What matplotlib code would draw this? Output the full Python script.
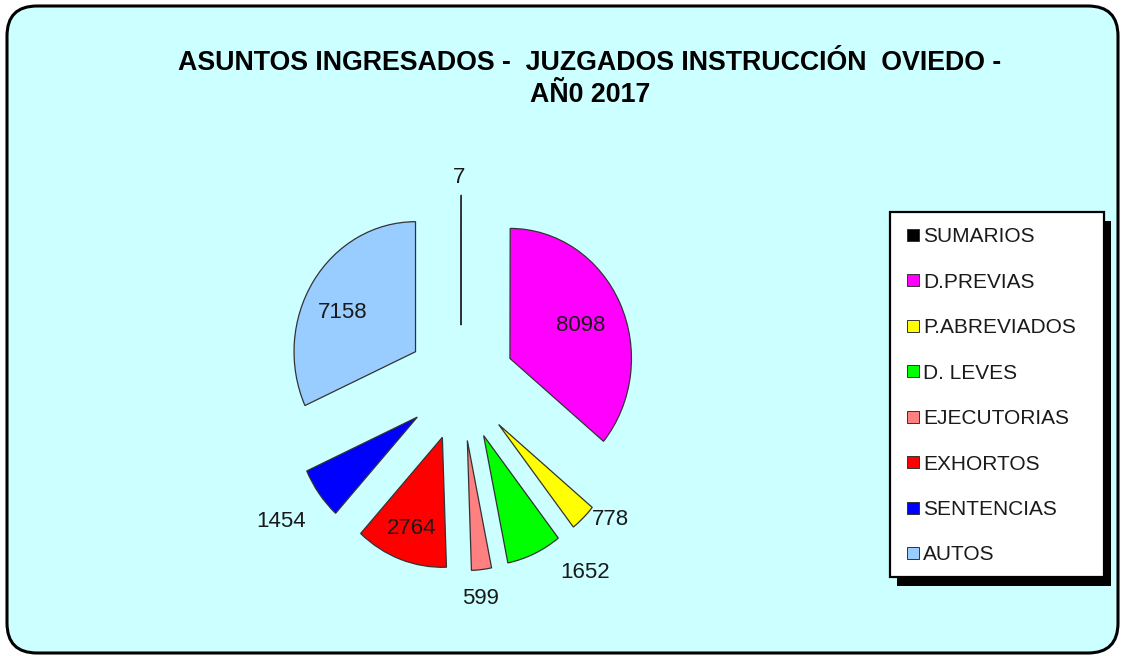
import numpy as np
import matplotlib
matplotlib.use("Agg")
import matplotlib.pyplot as plt
from matplotlib.patches import FancyBboxPatch, Rectangle
from matplotlib.transforms import IdentityTransform

# ---- data ----
categories = ["SUMARIOS", "D.PREVIAS", "P.ABREVIADOS", "D. LEVES",
              "EJECUTORIAS", "EXHORTOS", "SENTENCIAS", "AUTOS"]
values = [7, 8098, 778, 1652, 599, 2764, 1454, 7158]
colors = ["#000000", "#FF00FF", "#FFFF00", "#00FF00",
          "#FF8080", "#FF0000", "#0000FF", "#99CCFF"]
title = "ASUNTOS INGRESADOS -  JUZGADOS INSTRUCCIÓN  OVIEDO -\nAÑ0 2017"

# ---- style ----
label_dist = [1.154, 0.645, 1.161, 1.33, 1.205, 0.73, 1.37, 0.68]
label_rot = [1, 0, 8, 14, -1.5, 0, -1, 4.7]
FONT = "Liberation Sans"

W, H = 1124, 656
fig = plt.figure(figsize=(W / 100, H / 100), dpi=100)
fig.patch.set_facecolor("white")

bg = FancyBboxPatch((7, 3), 1111, 647, boxstyle="round,pad=0,rounding_size=30",
                    transform=IdentityTransform(), fc="#CCFFFF", ec="black",
                    lw=2.2, zorder=0)
fig.add_artist(bg)

# pie axes
cx, cy = 461, H - 383
rh, rv = 121.5, 130
lim = 1.8
ax = fig.add_axes([(cx - lim * rh) / W, (cy - lim * rv) / H,
                   2 * lim * rh / W, 2 * lim * rv / H])
ax.set_facecolor("none")
wedges, _ = ax.pie(values, colors=colors, startangle=90, counterclock=False,
                   explode=[0.445] * len(values),
                   wedgeprops=dict(edgecolor="#333333", linewidth=0.9))
ax.set_aspect("auto")
ax.set_xlim(-lim, lim)
ax.set_ylim(-lim, lim)
ax.axis("off")

fs_lab = 16
for w, v, d, rot in zip(wedges, values, label_dist, label_rot):
    th = np.deg2rad((w.theta1 + w.theta2) / 2 + rot)
    x = w.center[0] + d * np.cos(th)
    y = w.center[1] + d * np.sin(th)
    ax.annotate(str(v), (x, y), xytext=(0, -0.358 * fs_lab),
                textcoords="offset points", ha="center", va="baseline",
                fontsize=fs_lab, color="#1a1a1a", family=FONT)

# title
fig.text(590 / W, 1 - 79 / H, title, ha="center", va="center",
         fontsize=19.3, fontweight="bold", family=FONT, linespacing=1.28)

# legend (manual, in pixels)
lx0, lx1, ltop, lbot = 890, 1104, 211.7, 576.7
fig.add_artist(Rectangle((lx0 + 7, H - lbot - 9), lx1 - lx0, lbot - ltop,
                         transform=IdentityTransform(), fc="black", ec="none",
                         zorder=2))
fig.add_artist(Rectangle((lx0, H - lbot), lx1 - lx0, lbot - ltop,
                         transform=IdentityTransform(), fc="white", ec="black",
                         lw=1.6, zorder=3))
fs_leg = 15
step = (553 - 235) / 7
for i, (cat, col) in enumerate(zip(categories, colors)):
    yc = 235 + i * step
    fig.add_artist(Rectangle((907, H - yc - 6), 12, 12,
                             transform=IdentityTransform(), fc=col,
                             ec="#333333", lw=0.7, zorder=4))
    fig.text(923 / W, (H - yc - 0.358 * fs_leg * 100 / 72) / H, cat,
             ha="left", va="baseline", fontsize=fs_leg, family=FONT,
             color="#1a1a1a", zorder=5)

fig.savefig("out.png", dpi=100)
